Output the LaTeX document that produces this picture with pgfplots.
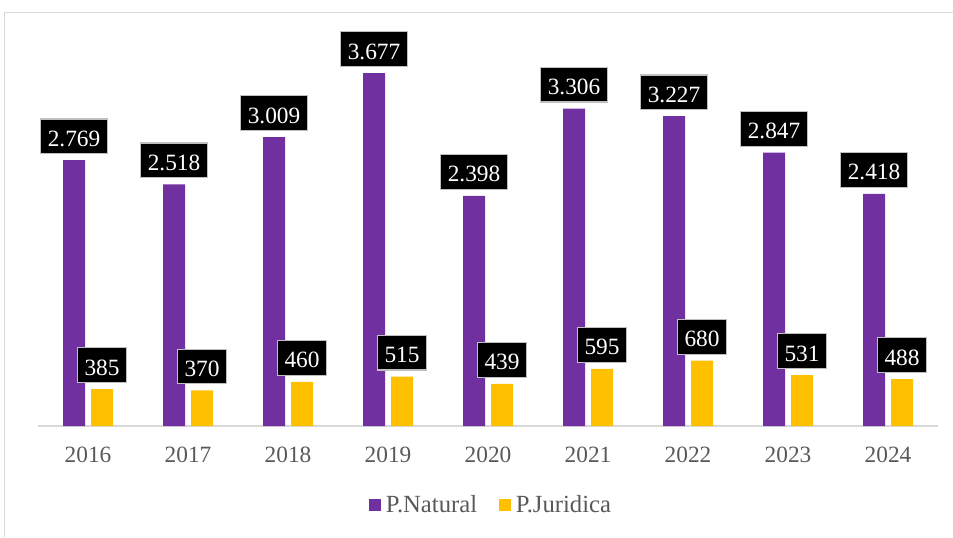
\documentclass[border=0pt]{standalone}
\usepackage{pgfplots}
\pgfplotsset{compat=1.18}
\usepackage{fontspec}
\setmainfont{Liberation Serif}
\definecolor{cpurple}{HTML}{7030A0}
\definecolor{cyellow}{HTML}{FFC000}
\definecolor{cgrid}{HTML}{D9D9D9}
\definecolor{ctext}{HTML}{595959}
\definecolor{cbox}{HTML}{BFBFBF}
\begin{document}
\begin{tikzpicture}
\useasboundingbox (0,0) rectangle (714.75pt,-402.75pt);
\draw[cgrid, line width=0.75pt] (3pt,-402.75pt) -- (3pt,-9pt) -- (714.75pt,-9pt);
\begin{axis}[
  at={(28.5pt,-319.5pt)}, anchor=south west,
  scale only axis, width=675pt, height=302.4pt,
  ybar, bar width=16.5pt,
  xmin=-0.5, xmax=8.5, ymin=0, ymax=4200,
  clip=false,
  hide y axis,
  axis x line*=bottom,
  axis line style={draw=cgrid, line width=1.2pt},
  xtick={0,...,8},
  xticklabels={2016,2017,2018,2019,2020,2021,2022,2023,2024},
  xtick style={draw=none},
  major tick length=0pt,
  xticklabel style={font=\fontsize{17.5}{20}\selectfont, text=ctext, inner sep=0pt, anchor=north, yshift=-15.5pt},
  /pgf/number format/.cd, 1000 sep={.}, assume math mode=true, /pgfplots/.cd,
  nodes near coords,
  every node near coord/.append style={font=\fontsize{17.5}{20}\selectfont, text=white, fill=black, draw=cbox, line width=0.9pt, anchor=south, yshift=4.5pt, inner xsep=5.5pt, inner ysep=5.5pt, text height=15pt, text depth=0pt},
  legend columns=2,
  legend style={at={(0.505,-0.196)}, anchor=center, draw=none, fill=none, font=\fontsize{18.5}{21}\selectfont, text=ctext,
    nodes={inner xsep=3.5pt, inner ysep=2pt},
    /tikz/every even column/.append style={column sep=13pt}},
]
\addplot[fill=cpurple, draw=none, bar shift=-10.5pt,
  legend image code/.code={\fill[cpurple] (0pt,-4.5pt) rectangle (9pt,4.5pt);}]
  coordinates {(0,2769) (1,2518) (2,3009) (3,3677) (4,2398) (5,3306) (6,3227) (7,2847) (8,2418)};
\addlegendentry{P.Natural}
\addplot[fill=cyellow, draw=none, bar shift=10.5pt,
  legend image code/.code={\fill[cyellow] (0pt,-4.5pt) rectangle (9pt,4.5pt);}]
  coordinates {(0,385) (1,370) (2,460) (3,515) (4,439) (5,595) (6,680) (7,531) (8,488)};
\addlegendentry{P.Juridica}
\end{axis}
\end{tikzpicture}
\end{document}
